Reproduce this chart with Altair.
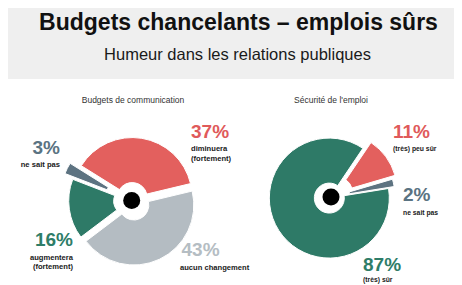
import math
import altair as alt
import pandas as pd

# ---------------- data ----------------
TITLE = "Budgets chancelants – emplois sûrs"
SUBTITLE = "Humeur dans les relations publiques"

budget_title = "Budgets de communication"
budget_cats = ["diminuera (fortement)", "aucun changement", "augmentera (fortement)", "ne sait pas"]
budget_vals = [37, 43, 16, 3]
budget_desc = [["diminuera", "(fortement)"], ["aucun changement"], ["augmentera", "(fortement)"], ["ne sait pas"]]

job_title = "Sécurité de l'emploi"
job_cats = ["(très) peu sûr", "ne sait pas", "(très) sûr"]
job_vals = [11, 2, 87]
job_desc = [["(très) peu sûr"], ["ne sait pas"], ["(très) sûr"]]

# ---------------- style / layout ----------------
W, H = 446, 277
RED, LGRAY, GREEN, SLATE = "#e3605e", "#b4bcc2", "#2e7a67", "#5d7381"
RED_T, LGRAY_T, GREEN_T, SLATE_T = "#e05a5a", "#b5bdc3", "#2e7d68", "#5a7382"
SANS = "Liberation Sans, Arial, sans-serif"

budget_style = dict(colors=[RED, LGRAY, GREEN, SLATE], tcolors=[RED_T, LGRAY_T, GREEN_T, SLATE_T],
                    explode=[3, 5, 3, 12], start=302, cx=123.7, cy=192.5,
                    align=["left", "left", "right", "right"],
                    pct_xy=[(183, 123.5), (173.5, 242), (65, 232), (52, 140)],
                    desc_x=[183, 172, 65, 52], desc_y=[[141, 151], [260], [250, 259], [157]],
                    desc_size=7.6)
job_style = dict(colors=[RED, SLATE, GREEN], tcolors=[RED_T, SLATE_T, GREEN_T],
                 explode=[8, 4, 2], start=34, cx=323, cy=189,
                 align=["left", "left", "left"],
                 pct_xy=[(385, 124), (395, 186.5), (355, 256.5)],
                 desc_x=[385, 395, 355], desc_y=[[141], [204.6], [272]],
                 desc_size=6.8)

OUTER_R, INNER_R, DOT_SIZE = 60, 15, 290


def pie_layer(cats, vals, st):
    df = pd.DataFrame({
        "order": list(range(len(vals))),
        "cat": cats,
        "value": vals,
        "color": st["colors"],
        "explode": st["explode"],
    })
    a0 = math.radians(st["start"])
    return (
        alt.Chart(df)
        .transform_window(cum="sum(value)", sort=[alt.SortField("order")], frame=[None, 0])
        .transform_joinaggregate(total="sum(value)")
        .transform_calculate(
            t0=f"{a0} + 2*PI*(datum.cum - datum.value)/datum.total",
            t1=f"{a0} + 2*PI*datum.cum/datum.total",
        )
        .transform_calculate(mid="(datum.t0 + datum.t1)/2")
        .transform_calculate(
            px=f"{st['cx']} + datum.explode*sin(datum.mid)",
            py=f"{st['cy']} - datum.explode*cos(datum.mid)",
        )
        .mark_arc(outerRadius=OUTER_R, innerRadius=INNER_R, stroke="white", strokeWidth=1)
        .encode(
            x=alt.X("px:Q", scale=None),
            y=alt.Y("py:Q", scale=None),
            theta=alt.Theta("t0:Q", scale=None),
            theta2=alt.Theta2("t1:Q"),
            color=alt.Color("color:N", scale=None),
        )
    )


def label_rows(vals, desc, st):
    rows = []
    for i, v in enumerate(vals):
        x, y = st["pct_xy"][i]
        rows.append(dict(text=f"{v}%", lx=x, ly=y, size=19, color=st["tcolors"][i], align=st["align"][i]))
        for line, dy in zip(desc[i], st["desc_y"][i]):
            rows.append(dict(text=line, lx=st["desc_x"][i], ly=dy, size=st["desc_size"],
                             color="#1a1a1a", align=st["align"][i]))
    return rows


rows = label_rows(budget_vals, budget_desc, budget_style) + label_rows(job_vals, job_desc, job_style)
labels = pd.DataFrame(rows)


def text_layer(align):
    return (
        alt.Chart(labels[labels["align"] == align])
        .mark_text(align=align, baseline="middle", font=SANS, fontWeight="bold")
        .encode(
            x=alt.X("lx:Q", scale=None),
            y=alt.Y("ly:Q", scale=None),
            text="text:N",
            size=alt.Size("size:Q", scale=None),
            color=alt.Color("color:N", scale=None),
        )
    )


one = pd.DataFrame({"a": [0]})
header = alt.Chart(one).mark_rect(color="#efefef").encode(
    x=alt.value(0), x2=alt.value(W), y=alt.value(0), y2=alt.value(71))
title = alt.Chart(one).mark_text(text=TITLE, font=SANS, fontSize=23, fontWeight="bold",
                                 color="#111111", align="center", baseline="alphabetic").encode(
    x=alt.value(230.5), y=alt.value(22))
subtitle = alt.Chart(one).mark_text(text=SUBTITLE, font=SANS, fontSize=16.5, fontWeight="normal",
                                    color="#1a1a1a", align="center", baseline="alphabetic").encode(
    x=alt.value(229.5), y=alt.value(52))
pt1 = alt.Chart(one).mark_text(text=budget_title, font=SANS, fontSize=8.5, color="#333333",
                               align="center", baseline="middle").encode(x=alt.value(125), y=alt.value(92))
pt2 = alt.Chart(one).mark_text(text=job_title, font=SANS, fontSize=8.5, color="#333333",
                               align="center", baseline="middle").encode(x=alt.value(323), y=alt.value(92))

centers = pd.DataFrame({"cx": [budget_style["cx"], job_style["cx"]], "cy": [budget_style["cy"], job_style["cy"]]})
dots = alt.Chart(centers).mark_circle(color="black", opacity=1, size=DOT_SIZE).encode(
    x=alt.X("cx:Q", scale=None), y=alt.Y("cy:Q", scale=None))

chart = alt.layer(
    header, title, subtitle, pt1, pt2,
    pie_layer(budget_cats, budget_vals, budget_style),
    pie_layer(job_cats, job_vals, job_style),
    dots, text_layer("left"), text_layer("right"),
).properties(width=W, height=H, padding=0, autosize=alt.AutoSizeParams(type="none"),
             background="white").configure_view(stroke=None)

chart.save("out.html", embed_options={"renderer": "svg", "actions": False})
